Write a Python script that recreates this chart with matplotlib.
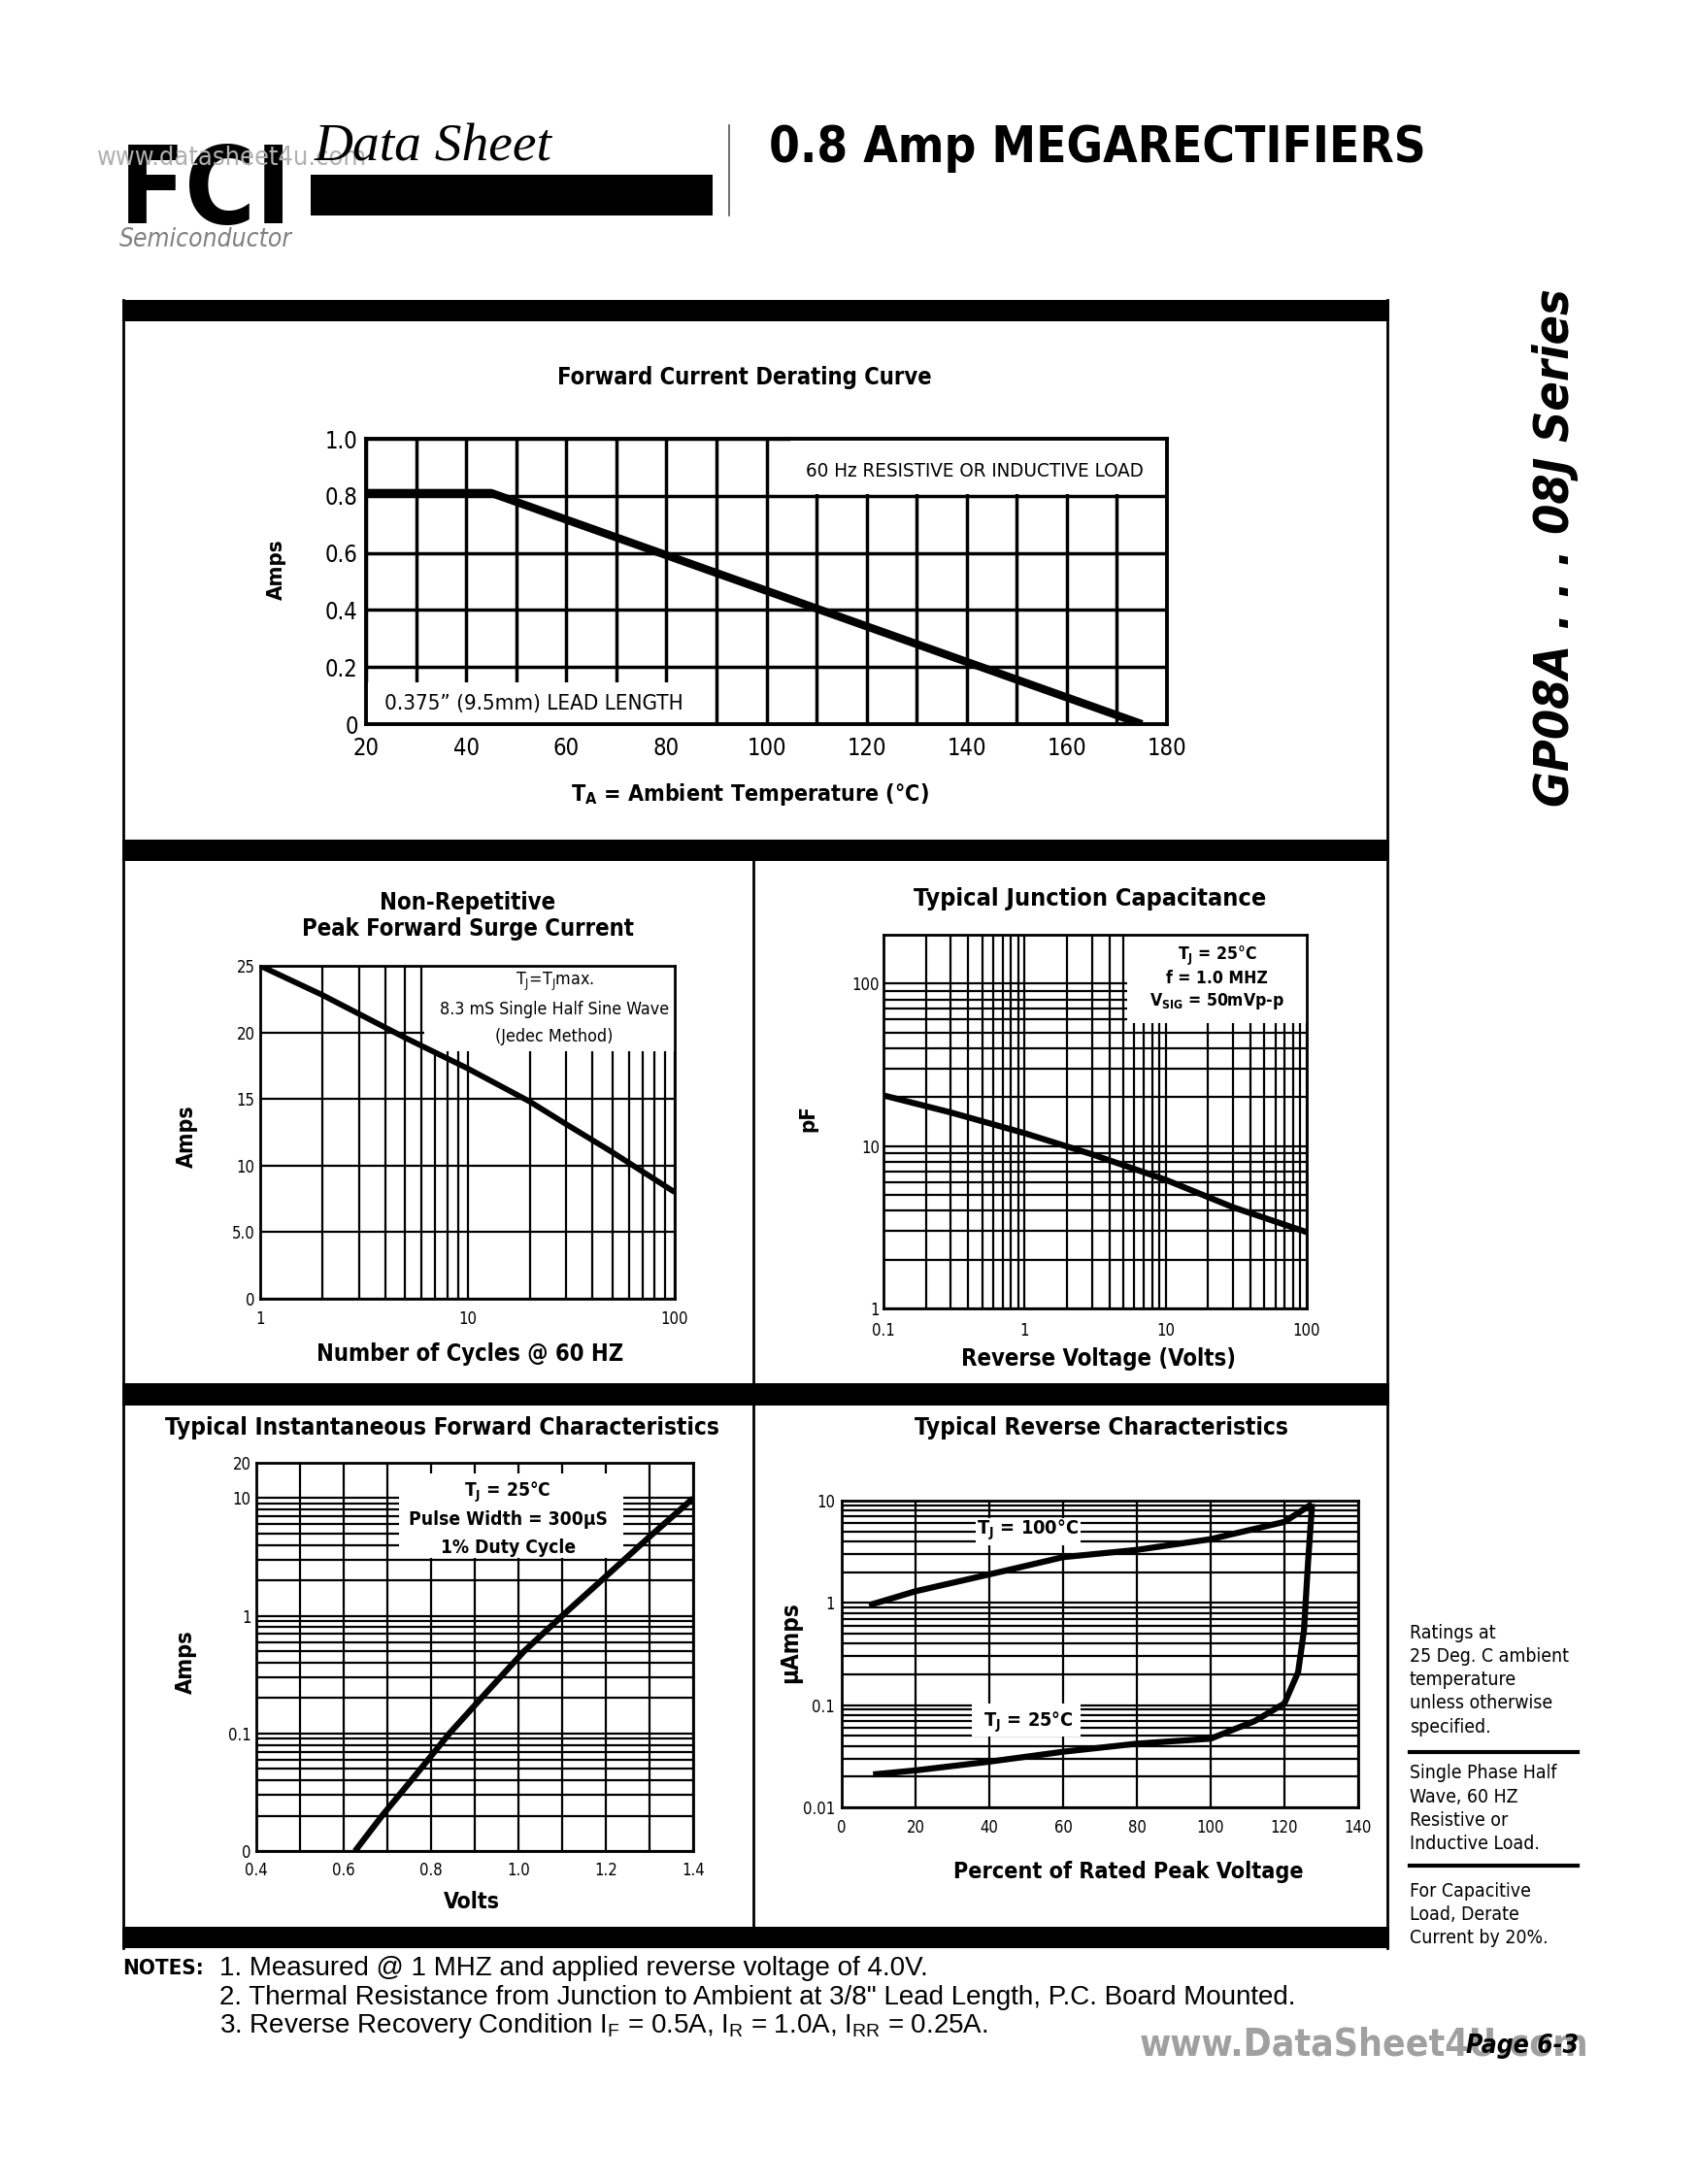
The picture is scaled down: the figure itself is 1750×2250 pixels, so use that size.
import os
import matplotlib
matplotlib.use("Agg")
import matplotlib.pyplot as plt
from matplotlib import font_manager as fm
from matplotlib.font_manager import FontProperties
from matplotlib.patches import Rectangle
from matplotlib.lines import Line2D
from matplotlib.ticker import NullFormatter

# ---- chart data ----
derate_temp = [20, 45, 175]
derate_amps = [0.81, 0.81, 0.0]

surge_cycles = [1, 2, 5, 10, 20, 30, 50, 100]
surge_amps = [25.0, 22.8, 19.6, 17.3, 14.8, 13.1, 11.0, 8.0]

cap_volts = [0.1, 0.3, 1, 3, 10, 30, 100]
cap_pf = [20.5, 16.1, 12.0, 8.9, 6.2, 4.2, 2.95]

fwd_volts = [0.626, 0.688, 0.755, 0.842, 0.93, 1.013, 1.1, 1.19, 1.3, 1.4]
fwd_amps = [0.01, 0.02, 0.04, 0.1, 0.23, 0.5, 1.0, 2.0, 4.7, 10.0]

rev_pct_100 = [7.4, 20, 40, 60, 80, 100, 120, 127.5]
rev_ua_100 = [0.95, 1.3, 1.9, 2.8, 3.3, 4.2, 6.2, 9.3]
rev_pct_25 = [8.5, 20, 40, 60, 80, 100, 112, 120, 123.7, 125.3, 126.4, 127.5]
rev_ua_25 = [0.021, 0.023, 0.028, 0.035, 0.042, 0.047, 0.07, 0.104, 0.21, 0.54, 2.5, 9.3]

side_notes = [
    ["Ratings at", "25 Deg. C ambient", "temperature", "unless otherwise", "specified."],
    ["Single Phase Half", "Wave, 60 HZ", "Resistive or", "Inductive Load."],
    ["For Capacitive", "Load, Derate", "Current by 20%."],
]
notes = [
    "1. Measured @ 1 MHZ and applied reverse voltage of 4.0V.",
    "2. Thermal Resistance from Junction to Ambient at 3/8\" Lead Length, P.C. Board Mounted.",
    "3. Reverse Recovery Condition I$_\\mathregular{F}$ = 0.5A, I$_\\mathregular{R}$ = 1.0A, "
    "I$_\\mathregular{RR}$ = 0.25A.",
]

# ---- fonts: look for a narrow sans on disk, else fall back to DejaVu ----
FILES = {os.path.basename(f.fname).lower(): f.fname for f in fm.fontManager.ttflist}


def find(*names):
    for n in names:
        if n.lower() in FILES:
            return FILES[n.lower()]
    return None


NARROW = {
    "reg": find("LiberationSansNarrow-Regular.ttf", "NotoSans-Condensed.ttf",
                "DejaVuSansCondensed.ttf", "NotoSans-ExtraCondensed.ttf"),
    "bold": find("LiberationSansNarrow-Bold.ttf", "NotoSans-CondensedBold.ttf",
                 "DejaVuSansCondensed-Bold.ttf", "NotoSans-ExtraCondensedBold.ttf"),
    "it": find("LiberationSansNarrow-Italic.ttf", "NotoSans-CondensedItalic.ttf",
               "DejaVuSansCondensed-Oblique.ttf", "NotoSans-ExtraCondensedItalic.ttf"),
    "bi": find("LiberationSansNarrow-BoldItalic.ttf", "NotoSans-CondensedBoldItalic.ttf",
               "DejaVuSansCondensed-BoldOblique.ttf", "NotoSans-ExtraCondensedBoldItalic.ttf"),
    "black": find("NotoSans-CondensedBlack.ttf", "NotoSans-CondensedExtraBold.ttf",
                  "LiberationSansNarrow-Bold.ttf", "NotoSans-CondensedBold.ttf",
                  "DejaVuSansCondensed-Bold.ttf"),
    "logo": find("NotoSans-ExtraCondensedBlack.ttf", "NotoSans-ExtraCondensedExtraBold.ttf",
                 "NotoSans-ExtraCondensedBold.ttf", "NotoSans-CondensedBlack.ttf",
                 "LiberationSansNarrow-Bold.ttf", "DejaVuSansCondensed-Bold.ttf"),
}
FALLBACK = {"reg": ("normal", "normal"), "bold": ("bold", "normal"), "it": ("normal", "italic"),
            "bi": ("bold", "italic"), "black": ("bold", "normal"), "logo": ("bold", "normal")}


def fp(kind="reg", size=12):
    if kind == "serif":
        return FontProperties(family=["Liberation Serif", "DejaVu Serif"], style="italic", size=size)
    if kind == "sans":
        return FontProperties(family=["Liberation Sans", "DejaVu Sans"], size=size)
    if NARROW.get(kind):
        return FontProperties(fname=NARROW[kind], size=size)
    w, s = FALLBACK[kind]
    return FontProperties(family="DejaVu Sans", weight=w, style=s, stretch="condensed", size=size)


W, H = 1750, 2250
fig = plt.figure(figsize=(17.5, 22.5), dpi=100, facecolor="white")
rend = fig.canvas.get_renderer()


def ftext(x, y, s, kind="reg", size=14, **kw):
    return fig.text(x / W, 1 - y / H, s, fontproperties=fp(kind, size), **kw)


def frect(x0, y0, x1, y1, **kw):
    fig.add_artist(Rectangle((x0 / W, 1 - y1 / H), (x1 - x0) / W, (y1 - y0) / H,
                             transform=fig.transFigure, **kw))


def fline(xs, ys, lw, color="k"):
    fig.add_artist(Line2D([x / W for x in xs], [1 - y / H for y in ys],
                          transform=fig.transFigure, color=color, lw=lw))


def fit(t, target, along="w"):
    bb = t.get_window_extent(renderer=rend)
    cur = bb.width if along == "w" else bb.height
    t.set_fontsize(t.get_fontsize() * target / cur)
    return t.get_fontsize()


def add_ax(l, t, r, b):
    return fig.add_axes([l / W, 1 - b / H, (r - l) / W, (b - t) / H])


def log_minors(e0, e1):
    return [m * 10.0 ** e for e in range(e0, e1) for m in range(2, 10)]


def style(ax, grid_lw, spine_lw, size, xpad, ypad):
    ax.set_axisbelow(True)
    ax.grid(True, which="both", color="k", lw=grid_lw)
    ax.tick_params(which="both", length=0)
    ax.tick_params(axis="x", pad=xpad)
    ax.tick_params(axis="y", pad=ypad)
    for sp in ax.spines.values():
        sp.set_linewidth(spine_lw)
    for lab in ax.get_xticklabels() + ax.get_yticklabels():
        lab.set_fontproperties(fp("reg", size))


def mask(ax, x0, y0, x1, y1):
    ax.add_patch(Rectangle((x0, y0), x1 - x0, y1 - y0, transform=ax.transAxes,
                           facecolor="white", edgecolor="none", zorder=1.5))


def atext(ax, x, y, s, kind="reg", size=11):
    return ax.text(x, y, s, transform=ax.transAxes, ha="center", va="center",
                   fontproperties=fp(kind, size), zorder=3)


def labels(ax, xl, xpos, yl, ypos, xw, yh):
    t = ax.set_xlabel(xl, fontproperties=fp("bold", 16), va="center", ha="center")
    ax.xaxis.set_label_coords(*xpos)
    fit(t, xw)
    t = ax.set_ylabel(yl, fontproperties=fp("bold", 16), va="center", ha="center")
    ax.yaxis.set_label_coords(*ypos)
    fit(t, yh, "h")


# ---- page header ----
t = ftext(123, 230, "FCI", "logo", 80, va="baseline", ha="left")
fit(t, 178)
t = ftext(123, 247, "Semiconductor", "it", 14, color="#808080", va="center", ha="left")
fit(t, 178)
t = ftext(100, 163, "www.datasheet4u.com", "reg", 14, color="#b0b0b0", va="center", ha="left")
fit(t, 279)
t = ftext(324, 165, "Data Sheet", "serif", 30, va="baseline", ha="left")
fit(t, 245)
frect(320, 180, 734, 222, facecolor="k", edgecolor="none")
fline([751, 751], [129, 222], 1.2, color="#555555")
t = ftext(792, 167, "0.8 Amp MEGARECTIFIERS", "black", 40, va="baseline", ha="left")
fit(t, 676)
t = ftext(1602, 564, "GP08A . . . 08J Series", "bi", 40, rotation=90, va="center", ha="center")
fit(t, 534, "h")

# ---- frame ----
for y0, y1 in [(309, 331), (865, 887), (1425, 1448), (1985, 2007)]:
    frect(126, y0, 1431, y1, facecolor="k", edgecolor="none")
fline([127, 127], [309, 2007], 2)
fline([1429, 1429], [309, 2007], 2)
fline([776, 776], [887, 1985], 2)

# ---- chart 1: derating ----
ax1 = add_ax(377, 452, 1202, 746)
ax1.plot(derate_temp, derate_amps, color="k", lw=6, solid_capstyle="butt")
ax1.set_xlim(20, 180)
ax1.set_ylim(0, 1.0)
ax1.set_xticks(range(20, 181, 20), [str(v) for v in range(20, 181, 20)])
ax1.set_xticks(range(30, 180, 20), minor=True)
ax1.set_yticks([0, 0.2, 0.4, 0.6, 0.8, 1.0], ["0", "0.2", "0.4", "0.6", "0.8", "1.0"])
style(ax1, 2.5, 2.8, 17, 9, 6)
mask(ax1, 0.53, 0.805, 1.0, 1.0)
mask(ax1, 0.0, 0.0, 0.431, 0.145)
fit(atext(ax1, 0.76, 0.887, "60 Hz RESISTIVE OR INDUCTIVE LOAD"), 348)
fit(atext(ax1, 0.21, 0.072, "0.375\u201d (9.5mm) LEAD LENGTH"), 306)
t = ftext(767, 389, "Forward Current Derating Curve", "bold", 18, ha="center", va="center")
fit(t, 387)
labels(ax1, "T$_\\mathregular{A}$ = Ambient Temperature (\u00b0C)", (0.479, -0.245),
       "Amps", (-0.112, 0.541), 370, 63)

# ---- chart 2: surge ----
ax2 = add_ax(268, 995, 695, 1338)
ax2.plot(surge_cycles, surge_amps, color="k", lw=4.2, solid_capstyle="butt")
ax2.set_xscale("log")
ax2.set_xlim(1, 100)
ax2.set_ylim(0, 25)
ax2.set_xticks([1, 10, 100], ["1", "10", "100"])
ax2.set_xticks(log_minors(0, 2), minor=True)
ax2.xaxis.set_minor_formatter(NullFormatter())
ax2.set_yticks([0, 5, 10, 15, 20, 25], ["0", "5.0", "10", "15", "20", "25"])
style(ax2, 1.6, 2.0, 12, 9, 4)
mask(ax2, 0.395, 0.744, 1.0, 1.0)
sz = fit(atext(ax2, 0.71, 0.869, "8.3 mS Single Half Sine Wave"), 236)
atext(ax2, 0.71, 0.953, "T$_\\mathregular{J}$=T$_\\mathregular{J}$max.", size=sz)
atext(ax2, 0.71, 0.787, "(Jedec Method)", size=sz)
fit(ftext(482, 930, "Non-Repetitive", "bold", 16, ha="center", va="center"), 182)
fit(ftext(482, 957, "Peak Forward Surge Current", "bold", 16, ha="center", va="center"), 344)
labels(ax2, "Number of Cycles @ 60 HZ", (0.506, -0.166), "Amps", (-0.176, 0.487), 317, 65)

# ---- chart 3: capacitance ----
ax3 = add_ax(910, 963, 1346, 1348)
ax3.plot(cap_volts, cap_pf, color="k", lw=4.5, solid_capstyle="butt")
ax3.set_xscale("log")
ax3.set_yscale("log")
ax3.set_xlim(0.1, 100)
ax3.set_ylim(1, 200)
ax3.set_xticks([0.1, 1, 10, 100], ["0.1", "1", "10", "100"])
ax3.set_xticks(log_minors(-1, 2), minor=True)
ax3.set_yticks([1, 10, 100], ["1", "10", "100"])
ax3.set_yticks(log_minors(0, 2) + [200], minor=True)
ax3.xaxis.set_minor_formatter(NullFormatter())
ax3.yaxis.set_minor_formatter(NullFormatter())
style(ax3, 1.6, 2.0, 12, 10, 3)
mask(ax3, 0.575, 0.763, 1.0, 1.0)
sz = fit(atext(ax3, 0.788, 0.821, "V$_\\mathregular{SIG}$ = 50mVp-p", "bold"), 139)
atext(ax3, 0.788, 0.942, "T$_\\mathregular{J}$ = 25\u00b0C", "bold", sz)
atext(ax3, 0.788, 0.884, "f = 1.0 MHZ", "bold", sz)
fit(ftext(1123, 926, "Typical Junction Capacitance", "bold", 16, ha="center", va="center"), 363)
labels(ax3, "Reverse Voltage (Volts)", (0.509, -0.135), "pF", (-0.177, 0.509), 284, 28)

# ---- chart 4: forward characteristics ----
ax4 = add_ax(264, 1507, 714, 1907)
ax4.plot(fwd_volts, fwd_amps, color="k", lw=4.5, solid_capstyle="butt")
ax4.set_yscale("log")
ax4.set_xlim(0.4, 1.4)
ax4.set_ylim(0.01, 20)
ax4.set_xticks([0.4, 0.6, 0.8, 1.0, 1.2, 1.4], ["0.4", "0.6", "0.8", "1.0", "1.2", "1.4"])
ax4.set_xticks([0.5, 0.7, 0.9, 1.1, 1.3], minor=True)
ax4.set_yticks([0.01, 0.1, 1, 10, 20], ["0", "0.1", "1", "10", "20"])
ax4.set_yticks(log_minors(-2, 1), minor=True)
ax4.yaxis.set_minor_formatter(NullFormatter())
style(ax4, 1.6, 2.0, 12, 8, 4)
mask(ax4, 0.327, 0.754, 0.839, 0.973)
sz = fit(atext(ax4, 0.576, 0.853, "Pulse Width = 300\u00b5S", "bold"), 203)
atext(ax4, 0.576, 0.924, "T$_\\mathregular{J}$ = 25\u00b0C", "bold", sz)
atext(ax4, 0.576, 0.781, "1% Duty Cycle", "bold", sz)
fit(ftext(455, 1471, "Typical Instantaneous Forward Characteristics", "bold", 16,
          ha="center", va="center"), 572)
labels(ax4, "Volts", (0.493, -0.1325), "Amps", (-0.162, 0.4875), 58, 66)

# ---- chart 5: reverse characteristics ----
ax5 = add_ax(867, 1546, 1399, 1862)
ax5.plot(rev_pct_100, rev_ua_100, color="k", lw=4.5, solid_capstyle="butt")
ax5.plot(rev_pct_25, rev_ua_25, color="k", lw=4.5, solid_capstyle="butt")
ax5.set_yscale("log")
ax5.set_xlim(0, 140)
ax5.set_ylim(0.01, 10)
ax5.set_xticks(range(0, 141, 20), [str(v) for v in range(0, 141, 20)])
ax5.set_yticks([0.01, 0.1, 1, 10], ["0.01", "0.1", "1", "10"])
ax5.set_yticks(log_minors(-2, 1), minor=True)
ax5.yaxis.set_minor_formatter(NullFormatter())
style(ax5, 1.6, 2.0, 12, 9, 5)
mask(ax5, 0.26, 0.853, 0.462, 0.944)
mask(ax5, 0.252, 0.232, 0.462, 0.339)
sz = fit(atext(ax5, 0.361, 0.904, "T$_\\mathregular{J}$ = 100\u00b0C", "bold"), 106)
atext(ax5, 0.361, 0.277, "T$_\\mathregular{J}$ = 25\u00b0C", "bold", sz)
fit(ftext(1134, 1471, "Typical Reverse Characteristics", "bold", 16, ha="center", va="center"), 386)
labels(ax5, "Percent of Rated Peak Voltage", (0.556, -0.209), "\u00b5Amps",
       (-0.0996, 0.538), 363, 84)

# ---- side notes ----
probe = ftext(1452, 0, side_notes[0][1], "reg", 14, va="center", ha="left")
sz = fit(probe, 165)
probe.remove()
for group, y0 in zip(side_notes, [1682, 1827, 1948]):
    for i, line in enumerate(group):
        ftext(1452, y0 + i * 24.3, line, "reg", sz, va="center", ha="left")
fline([1452, 1625], [1805, 1805], 3.0)
fline([1452, 1625], [1922, 1922], 3.0)

# ---- notes ----
fit(ftext(126, 2028, "NOTES:", "bold", 16, va="center", ha="left"), 84)
probe = ftext(226, 0, notes[1], "sans", 16, va="center", ha="left")
sz = fit(probe, 1110)
probe.remove()
for line, y in zip(notes, [2028, 2058, 2087]):
    ftext(226, y, line, "sans", sz, va="center", ha="left")

t = ftext(1174, 2106, "www.DataSheet4U.com", "bold", 24, color="#a0a0a0", va="center", ha="left")
fit(t, 463)
t = ftext(1626, 2108, "Page 6-3", "bi", 16, va="center", ha="right")
fit(t, 116)

fig.savefig("out.png", dpi=100, facecolor="white")
